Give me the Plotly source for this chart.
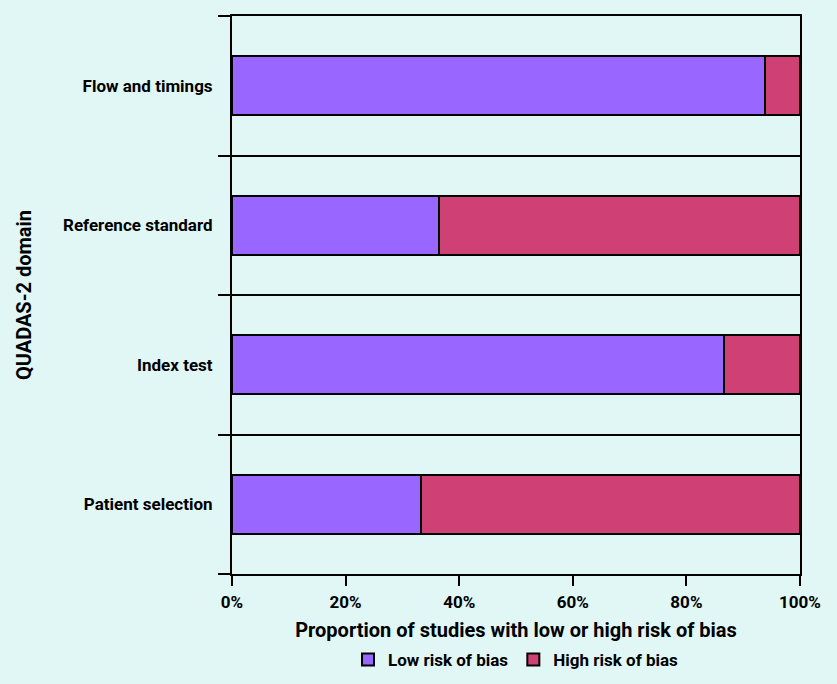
import plotly.graph_objects as go

# QUADAS-2 domains, bottom to top
domains = ["Patient selection", "Index test", "Reference standard", "Flow and timings"]
low_risk = [33.3, 86.7, 36.4, 93.75]
high_risk = [66.7, 13.3, 63.6, 6.25]
x_ticks = [0, 20, 40, 60, 80, 100]
x_tick_text = ["0%", "20%", "40%", "60%", "80%", "100%"]

purple = "#9966ff"
pink = "#cf4174"
bg = "#e0f7f5"

fig = go.Figure()

fig.add_trace(go.Bar(
    name="Low risk of bias",
    y=domains,
    x=low_risk,
    orientation="h",
    width=0.42,
    marker=dict(color=purple, line=dict(color="black", width=2))))

fig.add_trace(go.Bar(
    name="High risk of bias",
    y=domains,
    x=high_risk,
    orientation="h",
    width=0.42,
    marker=dict(color=pink, line=dict(color="black", width=2))))

fig.update_layout(
    barmode="stack",
    width=837,
    height=684,
    margin=dict(l=232, r=37, t=16, b=110),
    paper_bgcolor=bg,
    plot_bgcolor=bg,
    font=dict(family="Roboto", size=17, color="black", weight="bold"),
    showlegend=True,
    legend=dict(orientation="h", x=0.5, xanchor="center",
                yref="container", y=0.035, yanchor="middle",
                font=dict(size=17), traceorder="normal"),
    xaxis=dict(
        range=[0, 100],
        tickvals=x_ticks,
        ticktext=x_tick_text,
        ticks="outside",
        ticklen=10,
        tickwidth=2,
        tickcolor="black",
        ticklabelstandoff=2,
        showline=True,
        linecolor="black",
        linewidth=2,
        mirror=True,
        showgrid=False,
        zeroline=False,
        automargin=False,
        title=dict(text="Proportion of studies with low or high risk of bias", standoff=20),
    ),
    yaxis=dict(
        type="category",
        range=[-0.5, 3.5],
        tickson="boundaries",
        ticks="outside",
        ticklen=12,
        tickwidth=2,
        tickcolor="black",
        ticklabelstandoff=14,
        showline=True,
        linecolor="black",
        linewidth=2,
        mirror=True,
        showgrid=True,
        gridcolor="black",
        gridwidth=2,
        automargin=False,
        title=dict(text="QUADAS-2 domain", standoff=26),
    ),
)

fig.write_html("out.html", config={"displayModeBar": False},
               post_script="document.body.style.margin='0';")
